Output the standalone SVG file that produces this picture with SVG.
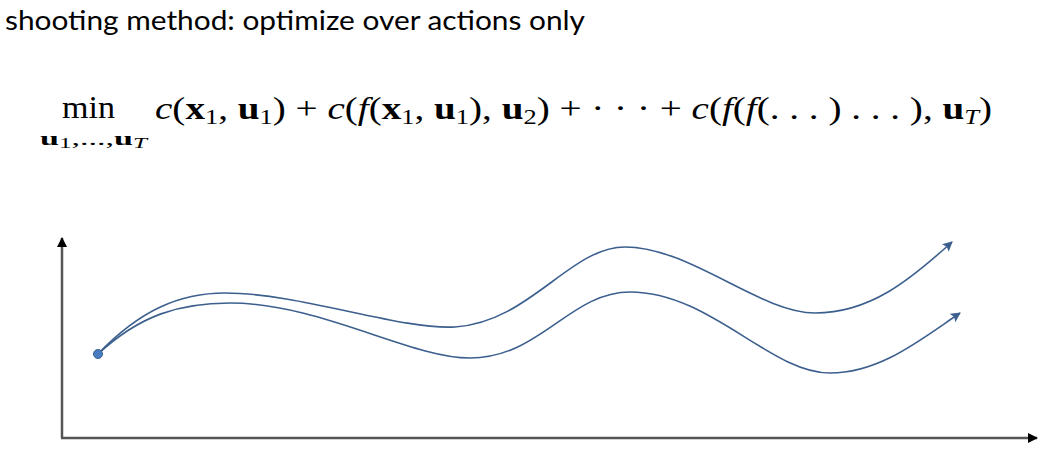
<svg xmlns="http://www.w3.org/2000/svg" width="1046" height="452" viewBox="0 0 1046 452">
<defs>
<style>
.title{font-family:Lato,"Liberation Sans",Arial,sans-serif;font-size:27px;fill:#000}
.math{font-family:"Liberation Serif","DejaVu Serif",serif;font-size:31px;fill:#000}
.it{font-style:italic}
.bf{font-weight:bold}
.sub{font-size:21px}
.axis{stroke:#555;stroke-width:2.5;fill:none}
.traj{stroke:#3c5f8e;stroke-width:1.6;fill:none}
</style>
<marker id="axArrow" viewBox="0 0 10 10" refX="9" refY="5" markerWidth="10" markerHeight="10" markerUnits="userSpaceOnUse" orient="auto">
<path d="M0,0 L10,5 L0,10 Z" fill="#000"/>
</marker>
<marker id="trArrow" viewBox="0 0 10 10" refX="9" refY="5" markerWidth="10" markerHeight="10" markerUnits="userSpaceOnUse" orient="auto">
<path d="M0,0 L10,5 L0,10 L2,5 Z" fill="#3c5f8e"/>
</marker>
</defs>
<rect width="1046" height="452" fill="#fff"/>
<text class="title" x="5" y="30" textLength="580" lengthAdjust="spacingAndGlyphs">shooting method: optimize over actions only</text>
<g id="formula">
<text class="math" x="62" y="118" textLength="53" lengthAdjust="spacingAndGlyphs">min</text>
<text class="math" x="40" y="145" textLength="107" lengthAdjust="spacingAndGlyphs"><tspan class="bf" font-size="19">u</tspan><tspan font-size="14" dy="3">1</tspan><tspan font-size="19" dy="-3">,...,</tspan><tspan class="bf" font-size="19">u</tspan><tspan class="it" font-size="14" dy="3">T</tspan></text>
<text class="math" x="155" y="119" textLength="837" lengthAdjust="spacingAndGlyphs"><tspan class="it">c</tspan>(<tspan class="bf">x</tspan><tspan class="sub" dy="5">1</tspan><tspan dy="-5">, </tspan><tspan class="bf">u</tspan><tspan class="sub" dy="5">1</tspan><tspan dy="-5">) + </tspan><tspan class="it">c</tspan>(<tspan class="it">f</tspan>(<tspan class="bf">x</tspan><tspan class="sub" dy="5">1</tspan><tspan dy="-5">, </tspan><tspan class="bf">u</tspan><tspan class="sub" dy="5">1</tspan><tspan dy="-5">), </tspan><tspan class="bf">u</tspan><tspan class="sub" dy="5">2</tspan><tspan dy="-5">) + · · · + </tspan><tspan class="it">c</tspan>(<tspan class="it">f</tspan>(<tspan class="it">f</tspan>(. . . ) . . . ), <tspan class="bf">u</tspan><tspan class="sub it" dy="5">T</tspan><tspan dy="-5">)</tspan></text>
</g>
<g id="axes">
<line class="axis" x1="62" y1="438" x2="62" y2="238" marker-end="url(#axArrow)"/>
<line class="axis" x1="61" y1="438" x2="1037" y2="438" marker-end="url(#axArrow)"/>
</g>
<g id="connectors">
<path class="traj" d="M98,354 C140,310 180,293 225,293 C300,293 400,330 455,327 C530,322 570,247 625,247 C690,247 760,313 815,313 C870,313 910,280 952,242" marker-end="url(#trArrow)"/>
<path class="traj" d="M98,354 C140,315 180,303 230,303 C320,303 410,358 470,358 C540,358 570,292 630,292 C710,292 770,373 830,373 C880,373 920,340 960,313" marker-end="url(#trArrow)"/>
</g>
<g id="start">
<circle cx="98" cy="354" r="4.5" fill="#4a7cc0" stroke="#3c5f8e" stroke-width="1"/>
</g>
</svg>
